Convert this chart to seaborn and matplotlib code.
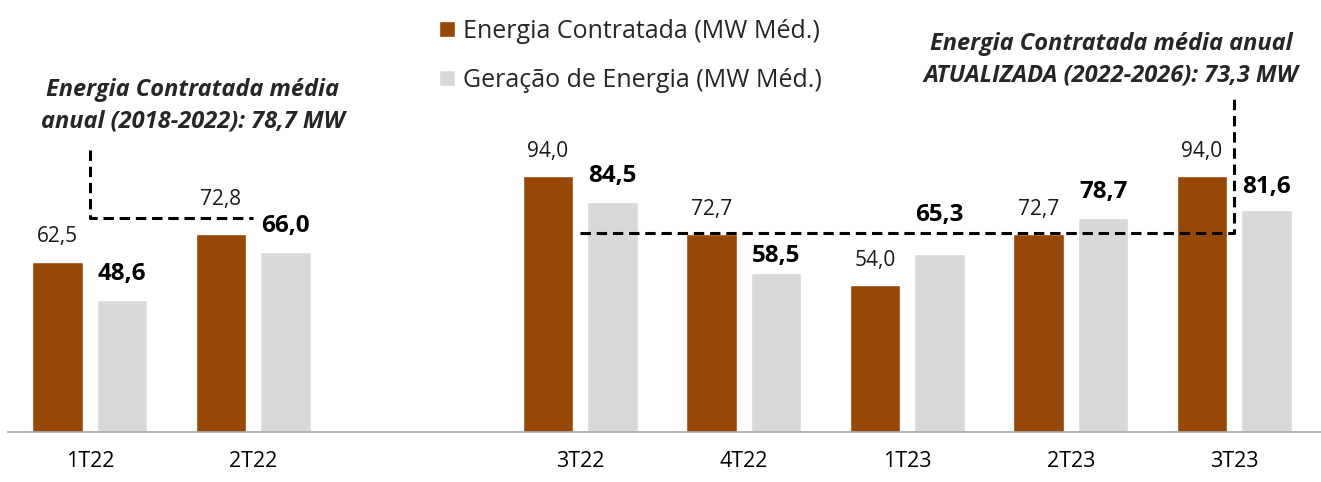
import numpy as np
import pandas as pd
import matplotlib
matplotlib.use("Agg")
import matplotlib.pyplot as plt
import seaborn as sns

# dados do gráfico
trimestres = ["1T22", "2T22", "", "3T22", "4T22", "1T23", "2T23", "3T23"]
trim_com_dados = ["1T22", "2T22", "3T22", "4T22", "1T23", "2T23", "3T23"]
contratada = [62.5, 72.8, 94.0, 72.7, 54.0, 72.7, 94.0]
geracao = [48.6, 66.0, 84.5, 58.5, 65.3, 78.7, 81.6]
serie_nomes = ["Energia Contratada (MW Méd.)", "Geração de Energia (MW Méd.)"]
media_2018_2022 = 78.7
media_2022_2026 = 73.3

COR_CONTRATADA = "#974706"
COR_GERACAO = "#D9D9D9"

sns.set_theme(style="white")
plt.rcParams["font.family"] = ["Open Sans", "DejaVu Sans"]

df = pd.DataFrame({
    "trimestre": trim_com_dados * 2,
    "valor": contratada + geracao,
    "serie": [serie_nomes[0]] * len(contratada) + [serie_nomes[1]] * len(geracao),
})

W, H = 1321, 482
fig = plt.figure(figsize=(W / 100, H / 100), dpi=100)
ax = fig.add_axes([8 / W, 50 / H, 1 - 8 / W, 1 - 50 / H])

sns.barplot(data=df, x="trimestre", y="valor", hue="serie", order=trimestres,
            hue_order=serie_nomes, palette=[COR_CONTRATADA, COR_GERACAO],
            width=0.79, gap=0.22, saturation=1, ax=ax, legend=True)

ax.set_xlim(-0.5, 7.53)
ax.set_ylim(0, 158.8)

# rótulos de valor (pixels acima da barra)
ajuste_contratada = {"2T22": 9}
ajuste_geracao = {"4T22": -9, "1T23": 13, "3T23": -3}
for i, cont in enumerate(ax.containers):
    for patch in cont.patches:
        h = patch.get_height()
        if np.isnan(h) or h == 0:
            continue
        xc = patch.get_x() + patch.get_width() / 2
        cat = trimestres[int(round(xc))]
        txt = f"{h:.1f}".replace(".", ",")
        if i == 0:
            dy = 25 + ajuste_contratada.get(cat, 0)
            ax.annotate(txt, (xc, h), xytext=(0, dy), textcoords="offset pixels",
                        ha="center", va="center", fontsize=15, color="#1a1a1a")
        else:
            dy = 26 + ajuste_geracao.get(cat, 0)
            ax.annotate(txt, (xc, h), xytext=(0, dy), textcoords="offset pixels",
                        ha="center", va="center", fontsize=17.5, fontweight="bold",
                        color="black")

# linhas tracejadas das médias
estilo = dict(color="black", lw=2.2, linestyle=(0, (3.4, 1.9)), zorder=4)
ax.plot([0, 0, 1], [103.7, media_2018_2022, media_2018_2022], **estilo)
ax.plot([3, 7, 7], [media_2022_2026, media_2022_2026, 124], **estilo)

fig.text(193 / W, 1 - 106 / H, "Energia Contratada média\nanual (2018-2022): 78,7 MW",
         ha="center", va="center", fontsize=17, fontweight="bold", fontstyle="italic",
         linespacing=1.42)
fig.text(1111 / W, 1 - 60 / H, "Energia Contratada média anual\nATUALIZADA (2022-2026): 73,3 MW",
         ha="center", va="center", fontsize=17, fontweight="bold", fontstyle="italic",
         linespacing=1.42)

# eixos
for s in ["top", "left", "right"]:
    ax.spines[s].set_visible(False)
ax.spines["bottom"].set_color("#A6A6A6")
ax.spines["bottom"].set_linewidth(1.2)
ax.set_yticks([])
ax.set_xlabel("")
ax.set_ylabel("")
ax.tick_params(axis="x", length=0, pad=14, labelsize=15.5, labelcolor="black")

leg = ax.legend(loc="upper left", bbox_to_anchor=(439 / W, 1 - 19 / H),
                bbox_transform=fig.transFigure, frameon=False, fontsize=18,
                handlelength=0.65, handleheight=0.6, handletextpad=0.3,
                labelspacing=0.95, borderaxespad=0, borderpad=0)

fig.savefig("out.png", dpi=100)
